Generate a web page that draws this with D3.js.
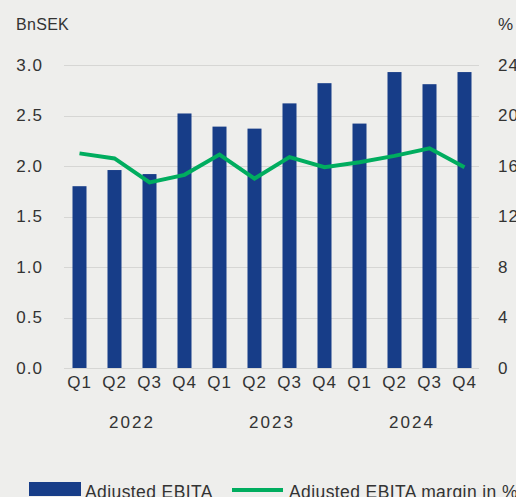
<!DOCTYPE html>
<html>
<head>
<meta charset="utf-8">
<script src="https://cdn.jsdelivr.net/npm/d3@7"></script>
<style>
  html, body { margin: 0; padding: 0; background: #eeeeec; }
  svg { display: block; }
  text { font-family: "Liberation Sans", Arial, sans-serif; fill: #333333; }
</style>
</head>
<body>
<svg id="chart" width="516" height="497"></svg>
<script>
// data
var quarters = ['Q1', 'Q2', 'Q3', 'Q4', 'Q1', 'Q2', 'Q3', 'Q4', 'Q1', 'Q2', 'Q3', 'Q4'];
var years = ['2022', '2023', '2024'];
var ebita = [1.80, 1.96, 1.92, 2.52, 2.39, 2.37, 2.62, 2.82, 2.42, 2.93, 2.81, 2.93];
var margin = [17.0, 16.6, 14.7, 15.3, 16.9, 15.0, 16.7, 15.9, 16.3, 16.8, 17.4, 15.9];
var leftTicks = [0, 0.5, 1.0, 1.5, 2.0, 2.5, 3.0];
var rightTicks = [0, 4, 8, 12, 16, 20, 24];

var svg = d3.select('#chart');
var plot = {left: 62, right: 482, top: 65, bottom: 368};

var x = d3.scaleBand()
    .domain(d3.range(quarters.length))
    .range([plot.left, plot.right])
    .paddingInner(0.6)
    .paddingOuter(0.3);

var y = d3.scaleLinear().domain([0, 3]).range([plot.bottom, plot.top]);
var y2 = d3.scaleLinear().domain([0, 24]).range([plot.bottom, plot.top]);

// gridlines
svg.append('g').selectAll('line').data(leftTicks).enter().append('line')
    .attr('x1', 64).attr('x2', 479)
    .attr('y1', function(d) { return Math.round(y(d)) + 0.5; })
    .attr('y2', function(d) { return Math.round(y(d)) + 0.5; })
    .attr('stroke', '#d6d6d4')
    .attr('stroke-width', 1);

// left axis
var leftAxis = d3.axisLeft(y).tickValues(leftTicks).tickFormat(d3.format('.1f')).tickSize(0).tickPadding(0);
var gl = svg.append('g').attr('transform', 'translate(43,0)').call(leftAxis);
gl.select('.domain').remove();
gl.selectAll('text').attr('font-size', 17).attr('fill', '#333').style('letter-spacing', '1px');

// right axis
var rightAxis = d3.axisRight(y2).tickValues(rightTicks).tickSize(0).tickPadding(0);
var gr = svg.append('g').attr('transform', 'translate(498,0)').call(rightAxis);
gr.select('.domain').remove();
gr.selectAll('text').attr('font-size', 17).attr('fill', '#333').style('letter-spacing', '1px');

// unit labels
svg.append('text').attr('x', 16).attr('y', 30).attr('font-size', 16).style('letter-spacing', '0.3px').text('BnSEK');
svg.append('text').attr('x', 498).attr('y', 30).attr('font-size', 17).text('%');

// bars
svg.append('g').selectAll('rect').data(ebita).enter().append('rect')
    .attr('x', function(d, i) { return x(i); })
    .attr('y', function(d) { return y(d); })
    .attr('width', x.bandwidth())
    .attr('height', function(d) { return y(0) - y(d); })
    .attr('fill', '#173d88');

// margin line
var line = d3.line()
    .x(function(d, i) { return x(i) + x.bandwidth() / 2; })
    .y(function(d) { return y2(d); });

svg.append('path')
    .datum(margin)
    .attr('d', line)
    .attr('fill', 'none')
    .attr('stroke', '#00ad5f')
    .attr('stroke-width', 4);

// quarter labels
var bottomAxis = d3.axisBottom(x).tickFormat(function(i) { return quarters[i]; }).tickSize(0).tickPadding(0);
var gb = svg.append('g').attr('transform', 'translate(0,376)').call(bottomAxis);
gb.select('.domain').remove();
gb.selectAll('text').attr('font-size', 17).attr('fill', '#333').style('letter-spacing', '1px');

// year labels
svg.append('g').selectAll('text').data(years).enter().append('text')
    .attr('x', function(d, i) { return (x(i * 4 + 1) + x(i * 4 + 2) + x.bandwidth()) / 2; })
    .attr('y', 428)
    .attr('text-anchor', 'middle')
    .attr('font-size', 17)
    .style('letter-spacing', '2px')
    .text(function(d) { return d; });

// legend
var leg = svg.append('g');
leg.append('rect').attr('x', 29).attr('y', 482).attr('width', 52).attr('height', 14).attr('fill', '#173d88');
leg.append('text').attr('x', 85).attr('y', 498).attr('font-size', 17.5).style('letter-spacing', '0.4px').text('Adjusted EBITA');
leg.append('line').attr('x1', 232).attr('x2', 283).attr('y1', 490).attr('y2', 490)
    .attr('stroke', '#00ad5f').attr('stroke-width', 4);
leg.append('text').attr('x', 289).attr('y', 498).attr('font-size', 17.5).style('letter-spacing', '0.4px').text('Adjusted EBITA margin in %');
</script>
</body>
</html>
